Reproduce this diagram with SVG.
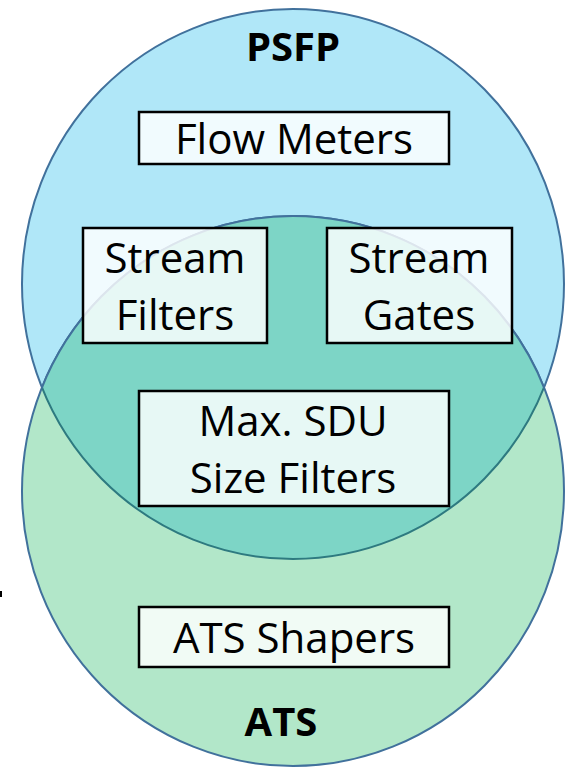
<svg xmlns="http://www.w3.org/2000/svg" width="565" height="771" viewBox="0 0 565 771">
<style>
.lbl{font-family:"Open Sans","Noto Sans",sans-serif;font-size:42px;fill:#000;text-anchor:middle}
.ttl{font-family:"Open Sans","Noto Sans",sans-serif;font-size:40px;font-weight:bold;fill:#000;text-anchor:middle}
.box{fill:#ffffff;fill-opacity:0.82;stroke:#000;stroke-width:2.5}
</style>
<defs>
<clipPath id="clipBottom"><ellipse cx="293" cy="491" rx="271" ry="275"/></clipPath>
<clipPath id="clipTop"><ellipse cx="293" cy="284" rx="271" ry="275"/></clipPath>
</defs>
<rect width="565" height="771" fill="#ffffff"/>
<g id="psfp">
<ellipse cx="293" cy="284" rx="271" ry="275" fill="#b0e7f8" stroke="#41719c" stroke-width="2"/>
</g>
<g id="ats">
<ellipse cx="293" cy="491" rx="271" ry="275" fill="#b2e7c9" stroke="#41719c" stroke-width="2"/>
</g>
<g id="overlap">
<ellipse cx="293" cy="284" rx="271" ry="275" fill="#7dd5c6" stroke="#2e7a80" stroke-width="2" clip-path="url(#clipBottom)"/>
<ellipse cx="293" cy="491" rx="271" ry="275" fill="none" stroke="#41719c" stroke-width="2" clip-path="url(#clipTop)"/>
</g>
<text class="ttl" x="293" y="61">PSFP</text>
<text class="ttl" x="281" y="736">ATS</text>
<g id="flow-meters">
<rect class="box" x="139" y="112" width="310" height="52"/>
<text class="lbl" x="294" y="154">Flow Meters</text>
</g>
<g id="stream-filters">
<rect class="box" x="83" y="228" width="184" height="115"/>
<text class="lbl" x="175" y="273">Stream</text>
<text class="lbl" x="175" y="330">Filters</text>
</g>
<g id="stream-gates">
<rect class="box" x="327" y="228" width="185" height="115"/>
<text class="lbl" x="419" y="273">Stream</text>
<text class="lbl" x="419" y="330">Gates</text>
</g>
<g id="max-sdu">
<rect class="box" x="139" y="391" width="310" height="115"/>
<text class="lbl" x="293" y="436">Max. SDU</text>
<text class="lbl" x="293" y="493">Size Filters</text>
</g>
<g id="ats-shapers">
<rect class="box" x="139" y="607" width="310" height="60"/>
<text class="lbl" x="294" y="653">ATS Shapers</text>
</g>
<g id="connectors"></g>
<rect x="0" y="591" width="2" height="6" fill="#000"/>
</svg>
